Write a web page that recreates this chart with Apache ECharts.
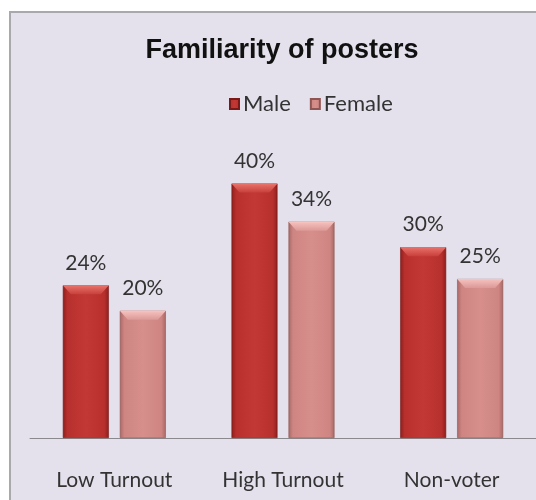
<!DOCTYPE html>
<html>
<head>
<meta charset="utf-8">
<title>Familiarity of posters</title>
<script src="https://cdn.jsdelivr.net/npm/echarts@6/dist/echarts.min.js"></script>
<style>
  html, body { margin: 0; padding: 0; background: #ffffff; }
  #chart { width: 536px; height: 500px; }
</style>
</head>
<body>
<div id="chart"></div>
<script>
// Voter groups on the x axis
const categories = ['Low Turnout', 'High Turnout', 'Non-voter'];
// Share of respondents familiar with the posters (%)
const maleValues = [24, 40, 30];
const femaleValues = [20, 34, 25];
const seriesNames = ['Male', 'Female'];

const BAR_W = 46;
const BAR_GAP = 11;

const chart = echarts.init(document.getElementById('chart'), null, { renderer: 'canvas' });

function bodyGradient(edge, mid, midLight) {
  return new echarts.graphic.LinearGradient(0, 0, 1, 0, [
    { offset: 0, color: edge },
    { offset: 0.1, color: mid },
    { offset: 0.5, color: midLight },
    { offset: 0.9, color: mid },
    { offset: 1, color: edge }
  ]);
}

const maleFill = bodyGradient('#8c1f1d', '#b8302d', '#c23834');
const femaleFill = bodyGradient('#a86865', '#cf8683', '#d78f8c');

// Bevelled cap drawn on top of each bar, positioned from the same scale
function bevel(seriesIdx, light, dark) {
  return function (params, api) {
    const cat = api.value(0);
    const val = api.value(1);
    const top = api.coord([cat, val]);
    const cx = top[0];
    const total = BAR_W * 2 + BAR_GAP;
    const x0 = cx - total / 2 + seriesIdx * (BAR_W + BAR_GAP);
    const y0 = top[1];
    const h = 9;
    const inset = 8;
    return {
      type: 'group',
      children: [
        {
          type: 'polygon',
          shape: { points: [[x0, y0], [x0 + BAR_W, y0], [x0 + BAR_W - inset, y0 + h], [x0 + inset, y0 + h]] },
          style: {
            fill: new echarts.graphic.LinearGradient(0, 0, 0, 1, [
              { offset: 0, color: light },
              { offset: 1, color: dark }
            ])
          }
        },
        {
          type: 'line',
          shape: { x1: x0 + 1, y1: y0 + 0.5, x2: x0 + BAR_W - 1, y2: y0 + 0.5 },
          style: { stroke: light, lineWidth: 1 }
        }
      ]
    };
  };
}

const labelStyle = {
  show: true,
  position: 'top',
  distance: 12,
  formatter: '{c}%',
  fontFamily: 'Lato',
  fontSize: 21,
  color: '#333333'
};

chart.setOption({
  backgroundColor: '#ffffff',
  animation: false,
  graphic: [
    {
      type: 'rect',
      z: -10,
      shape: { x: 10, y: 12, width: 540, height: 500 },
      style: { fill: '#e4e1ec', stroke: '#a9a9ad', lineWidth: 2 }
    }
  ],
  title: {
    text: 'Familiarity of posters',
    left: 277,
    top: 32,
    textAlign: 'center',
    textStyle: {
      fontFamily: 'Liberation Sans',
      fontWeight: 'bold',
      fontSize: 27,
      color: '#111111'
    }
  },
  legend: {
    data: seriesNames,
    left: 224,
    top: 88,
    itemWidth: 9,
    itemHeight: 10,
    itemGap: 19,
    icon: 'rect',
    textStyle: { fontFamily: 'Lato', fontSize: 22, color: '#333333', padding: [0, 0, 0, -1] }
  },
  grid: { left: 30, right: 0, top: 120, bottom: 62 },
  xAxis: {
    type: 'category',
    data: categories,
    axisLine: { show: true, lineStyle: { color: '#8a8a8e', width: 1 } },
    axisTick: { show: false },
    axisLabel: {
      margin: 32,
      fontFamily: 'Lato',
      fontSize: 21,
      color: '#333333'
    }
  },
  yAxis: {
    type: 'value',
    min: 0,
    max: 50,
    show: false,
    splitLine: { show: false }
  },
  series: [
    {
      name: seriesNames[0],
      type: 'bar',
      data: maleValues,
      barWidth: BAR_W,
      barGap: (BAR_GAP / BAR_W * 100).toFixed(1) + '%',
      itemStyle: { color: maleFill, borderColor: '#7a1a18', borderWidth: 0.6 },
      label: labelStyle,
      z: 2
    },
    {
      name: seriesNames[1],
      type: 'bar',
      data: femaleValues,
      barWidth: BAR_W,
      itemStyle: { color: femaleFill, borderColor: '#8e5552', borderWidth: 0.6 },
      label: labelStyle,
      z: 2
    },
    {
      type: 'custom',
      silent: true,
      z: 3,
      renderItem: bevel(0, '#e8726b', '#c8403b'),
      data: maleValues.map((v, i) => [i, v])
    },
    {
      type: 'custom',
      silent: true,
      z: 3,
      renderItem: bevel(1, '#f6c2bf', '#dc9996'),
      data: femaleValues.map((v, i) => [i, v])
    }
  ]
});
</script>
</body>
</html>
